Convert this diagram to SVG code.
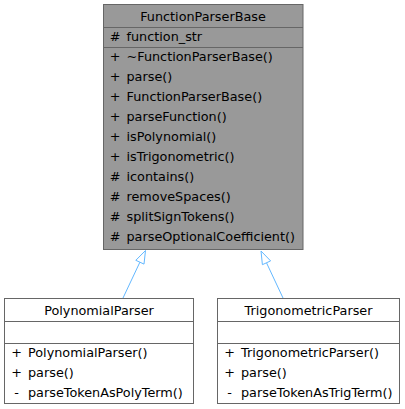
<svg xmlns="http://www.w3.org/2000/svg" width="405" height="409" viewBox="0 0 405 409">
<style>
text{font-family:"DejaVu Sans","Liberation Sans",sans-serif;font-size:12.8px;fill:#000}
.t{text-anchor:middle}
.s{text-anchor:middle}
.base{fill:#999999;stroke:#666666;stroke-width:1}
.child{fill:#ffffff;stroke:#666666;stroke-width:1}
.sep{stroke:#666666;stroke-width:1}
.edge{stroke:#63B8FF;stroke-width:1;fill:none}
.head{stroke:#63B8FF;stroke-width:1;fill:#ffffff}
</style>
<rect width="405" height="409" fill="#ffffff"/>
<g id="connectors">
<line class="edge" x1="123" y1="298" x2="139.9" y2="262.2"/>
<polygon class="head" points="145.5,250.5 144,264.1 135.8,260.3"/>
<line class="edge" x1="283" y1="298" x2="266.5" y2="262.8"/>
<polygon class="head" points="261,251 270.6,260.9 262.4,264.7"/>
</g>
<g id="FunctionParserBase">
<rect class="base" x="103.5" y="4.5" width="199.5" height="245"/>
<line class="sep" x1="103.5" y1="27.5" x2="303" y2="27.5"/>
<line class="sep" x1="103.5" y1="47.5" x2="303" y2="47.5"/>
<text class="t" x="203" y="21">FunctionParserBase</text>
<text class="s" x="115" y="41">#</text><text x="126.5" y="41">function_str</text>
<text class="s" x="115" y="61">+</text><text x="126.5" y="61">~FunctionParserBase()</text>
<text class="s" x="115" y="81">+</text><text x="126.5" y="81">parse()</text>
<text class="s" x="115" y="101">+</text><text x="126.5" y="101">FunctionParserBase()</text>
<text class="s" x="115" y="121">+</text><text x="126.5" y="121">parseFunction()</text>
<text class="s" x="115" y="141">+</text><text x="126.5" y="141">isPolynomial()</text>
<text class="s" x="115" y="161">+</text><text x="126.5" y="161">isTrigonometric()</text>
<text class="s" x="115" y="181">#</text><text x="126.5" y="181">icontains()</text>
<text class="s" x="115" y="201">#</text><text x="126.5" y="201">removeSpaces()</text>
<text class="s" x="115" y="221">#</text><text x="126.5" y="221">splitSignTokens()</text>
<text class="s" x="115" y="241">#</text><text x="126.5" y="241">parseOptionalCoefficient()</text>
</g>
<g id="PolynomialParser">
<rect class="child" x="4.5" y="298.5" width="189" height="105"/>
<line class="sep" x1="4.5" y1="321.5" x2="193.5" y2="321.5"/>
<line class="sep" x1="4.5" y1="343.5" x2="193.5" y2="343.5"/>
<text class="t" x="99" y="315">PolynomialParser</text>
<text class="s" x="16.5" y="356.5">+</text><text x="28" y="356.5">PolynomialParser()</text>
<text class="s" x="16.5" y="376.5">+</text><text x="28" y="376.5">parse()</text>
<text class="s" x="16.5" y="396.5">-</text><text x="28" y="396.5">parseTokenAsPolyTerm()</text>
</g>
<g id="TrigonometricParser">
<rect class="child" x="217.5" y="298.5" width="182" height="105"/>
<line class="sep" x1="217.5" y1="321.5" x2="399.5" y2="321.5"/>
<line class="sep" x1="217.5" y1="343.5" x2="399.5" y2="343.5"/>
<text class="t" x="308.5" y="315">TrigonometricParser</text>
<text class="s" x="229.5" y="356.5">+</text><text x="241" y="356.5">TrigonometricParser()</text>
<text class="s" x="229.5" y="376.5">+</text><text x="241" y="376.5">parse()</text>
<text class="s" x="229.5" y="396.5">-</text><text x="241" y="396.5">parseTokenAsTrigTerm()</text>
</g>
</svg>
